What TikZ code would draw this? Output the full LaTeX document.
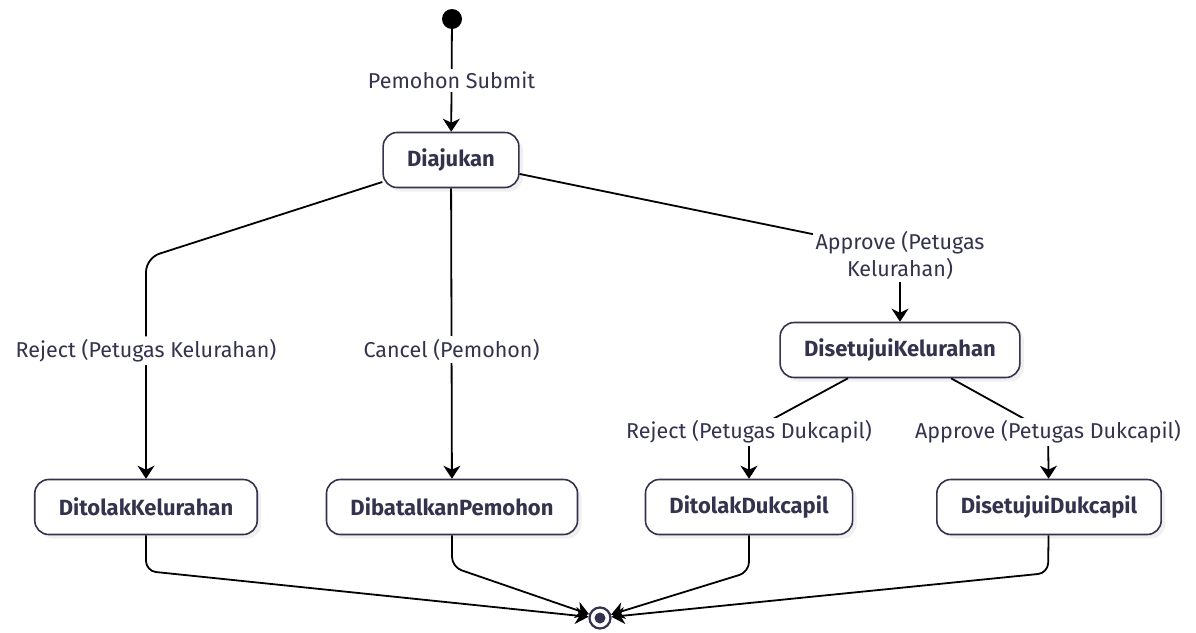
\documentclass[tikz,border=0pt]{standalone}
\usepackage{fontspec}
\setmainfont{Fira Sans}
\usetikzlibrary{arrows.meta,shadows}

\definecolor{navy}{RGB}{51,51,77}

\tikzset{
  state/.style={draw=navy, line width=1.6pt, rounded corners=14pt, fill=white,
    minimum height=55pt, inner xsep=24pt, text=navy,
    font=\fontsize{22}{26}\selectfont\bfseries,
    drop shadow={opacity=0.12, shadow xshift=4pt, shadow yshift=-4pt}},
  lbl/.style={fill=white, text=navy, inner sep=3pt, font=\fontsize{21.5}{27}\selectfont},
  edge/.style={line width=1.8pt, -{Stealth[length=13pt,width=17pt,inset=4pt]}},
  initstate/.style={circle, fill=black, minimum size=20pt, inner sep=0pt},
  finalstate/.style={circle, draw=navy, line width=2.2pt, fill=white, minimum size=21pt,
    inner sep=0pt, path picture={\fill[navy] (path picture bounding box.center) circle (5.5pt);}}
}

\begin{document}
\begin{tikzpicture}[x=1pt,y=-1pt]

\useasboundingbox (0,0) rectangle (1196,632);

\node[initstate] (init) at (452,19) {};
\node[state] (dia) at (451,160) {Diajukan};
\node[state] (dsk) at (900,350) {DisetujuiKelurahan};
\node[state] (dtk) at (146,507) {DitolakKelurahan};
\node[state] (dbp) at (452,507) {DibatalkanPemohon};
\node[state] (dtd) at (749,507) {DitolakDukcapil};
\node[state] (dsd) at (1049,507) {DisetujuiDukcapil};
\node[finalstate] (fin) at (600,618) {};

\coordinate (bendtk) at (146,258);
\coordinate (benddsk) at (900,252);
\coordinate (benddtd) at (749,432);
\coordinate (benddsd) at (1048,432);

% transitions
\draw[edge] (init) -- node[lbl] {Pemohon Submit} (dia);
\draw[edge, rounded corners=14pt] (dia) -- (bendtk) -- node[lbl, pos=0.42] {Reject (Petugas Kelurahan)} (dtk);
\draw[edge] (dia) -- node[lbl, pos=0.556] {Cancel (Pemohon)} (dbp);
\draw[edge] (dia) -- (benddsk) node[lbl, align=center, yshift=-3pt] {Approve (Petugas\\Kelurahan)} -- (dsk);
\draw[edge] (dsk) -- (benddtd) node[lbl] {Reject (Petugas Dukcapil)} -- (dtd);
\draw[edge] (dsk) -- (benddsd) node[lbl] {Approve (Petugas Dukcapil)} -- (dsd);

% to final state
\draw[edge, rounded corners=10pt] (dtk) -- (146,571) -- (fin);
\draw[edge, rounded corners=10pt] (dbp) -- (452,567) -- (fin);
\draw[edge, rounded corners=10pt] (dtd) -- (749,572) -- (fin);
\draw[edge, rounded corners=10pt] (dsd) -- (1048,573) -- (fin);

\end{tikzpicture}
\end{document}
